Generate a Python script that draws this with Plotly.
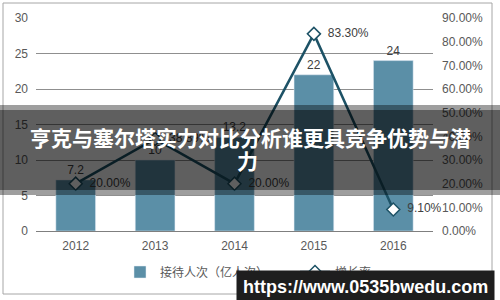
import plotly.graph_objects as go

years = ["2012", "2013", "2014", "2015", "2016"]
visits = [7.2, 10, 13.2, 22, 24]
visit_labels = ["7.2", "10", "13.2", "22", "24"]
growth = [0.20, 0.3889, 0.20, 0.833, 0.091]
growth_labels = ["20.00%", "38.89%", "20.00%", "83.30%", "9.10%"]
bar_name = "接待人次（亿人次）"
line_name = "增长率"
title_line1 = "亨克与塞尔塔实力对比分析谁更具竞争优势与潜"
title_line2 = "力"
watermark = "https://www.0535bwedu.com"

W, H = 500, 300
L, R, T, B = 36, 433, 18, 231


def px(x):
    return (x - L) / (R - L)


def py(y):
    return (B - y) / (B - T)


tick_font = dict(family="Liberation Sans, Arial, Noto Sans CJK SC", size=12, color="#595959")
line_color = "#1d5266"
bar_color = "#5b8fa7"

fig = go.Figure()
fig.add_trace(go.Bar(
    x=years, y=visits, name=bar_name, marker_color=bar_color,
    text=visit_labels, textposition="outside", cliponaxis=False,
    textfont=dict(family="Liberation Sans, Arial", size=12, color="#404040"),
))
fig.add_trace(go.Scatter(
    x=years, y=growth, name=line_name, yaxis="y2",
    mode="lines+markers+text", text=["\u00a0\u00a0" + t for t in growth_labels],
    textposition="middle right",
    textfont=dict(family="Liberation Sans, Arial", size=12, color="#404040"),
    line=dict(color=line_color, width=2.5),
    marker=dict(symbol="diamond", size=10, color="white", line=dict(color=line_color, width=1.5)),
    cliponaxis=False,
))

shapes = [
    dict(type="rect", xref="paper", yref="paper", x0=px(3), x1=px(492), y0=py(294), y1=py(3),
         line=dict(color="#a6a6a6", width=1), fillcolor="rgba(0,0,0,0)", layer="below"),
    dict(type="rect", xref="paper", yref="paper", x0=px(-5), x1=px(505), y0=py(195), y1=py(105),
         line=dict(width=0), fillcolor="rgba(0,0,0,0.38)", layer="above"),
    dict(type="rect", xref="paper", yref="paper", x0=px(-5), x1=px(505), y0=py(190), y1=py(110),
         line=dict(width=0), fillcolor="rgba(0,0,0,0.40)", layer="above"),
]

annotations = [
    dict(text=title_line1, xref="paper", yref="paper", x=px(250), y=py(137), xanchor="center",
         yanchor="middle", showarrow=False,
         font=dict(family="Noto Sans CJK SC", size=21, color="white", weight="bold")),
    dict(text=title_line2, xref="paper", yref="paper", x=px(248), y=py(160), xanchor="center",
         yanchor="middle", showarrow=False,
         font=dict(family="Noto Sans CJK SC", size=21, color="white", weight="bold")),
    dict(text=watermark, xref="paper", yref="paper", x=px(236), y=py(270), xanchor="left",
         yanchor="top", showarrow=False, bgcolor="#1e1e1e", borderpad=6, align="left",
         font=dict(family="Liberation Sans, Arial", size=18, color="white", weight="bold")),
]

fig.update_layout(
    width=W, height=H,
    margin=dict(l=L, r=W - R, t=T, b=H - B, pad=0),
    paper_bgcolor="white", plot_bgcolor="white",
    bargap=0.5,
    showlegend=True,
    legend=dict(orientation="h", x=px(120), y=py(272), xanchor="left", yanchor="middle",
                font=tick_font, bgcolor="rgba(0,0,0,0)", itemwidth=30, entrywidth=130),
    xaxis=dict(tickfont=tick_font, showline=True, linecolor="#7f7f7f", linewidth=1,
               ticks="", showgrid=False, ticklabelstandoff=4),
    yaxis=dict(range=[0, 30], dtick=5, tickfont=tick_font, showgrid=True, gridcolor="#8f8f8f",
               gridwidth=1, zeroline=False, showline=False, ticks="", ticklabelstandoff=7),
    yaxis2=dict(range=[0, 0.9], dtick=0.1, tickformat=".2%", overlaying="y", side="right",
                tickfont=tick_font, showgrid=False, zeroline=False, showline=False, ticks="",
                ticklabelstandoff=8),
    shapes=shapes,
    annotations=annotations,
)

fig.write_html("out.html")
